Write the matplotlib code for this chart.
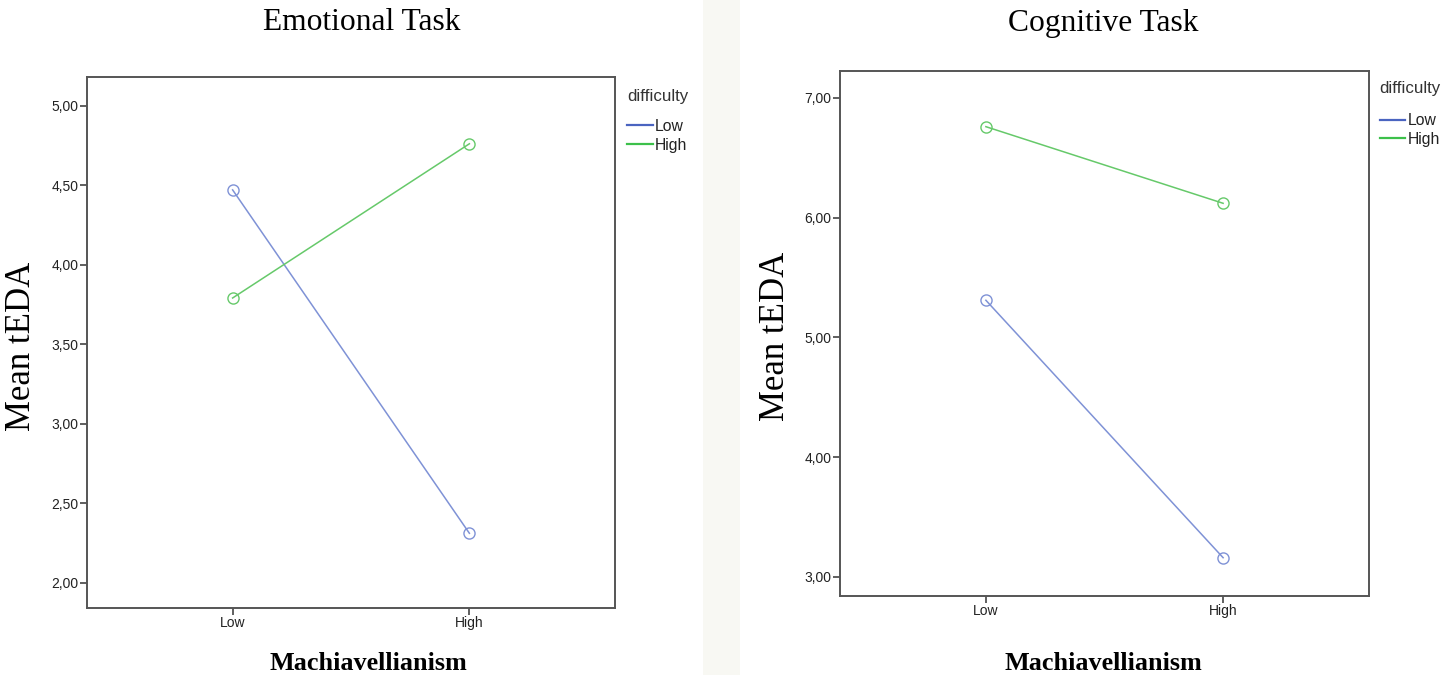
import matplotlib
matplotlib.use("Agg")
import matplotlib.pyplot as plt
from matplotlib.ticker import FuncFormatter
from matplotlib.patches import Rectangle

# Machiavellianism groups on the x axis
mach_groups = ["Low", "High"]
difficulty_levels = ["Low", "High"]

# mean tEDA, emotional task
emo_low_diff = [4.47, 2.31]
emo_high_diff = [3.79, 4.76]

# mean tEDA, cognitive task
cog_low_diff = [5.31, 3.16]
cog_high_diff = [6.76, 6.12]

emo_ticks = [2.0, 2.5, 3.0, 3.5, 4.0, 4.5, 5.0]
cog_ticks = [3.0, 4.0, 5.0, 6.0, 7.0]

W, H = 1447, 675
line_colors = ["#7f92d6", "#66c96a"]
legend_colors = ["#4a64c0", "#3cc04a"]


def comma_fmt(v, pos):
    return f"{v:.2f}".replace(".", ",")


def px_axes(fig, x0, x1, y0, y1):
    # pixel box (top-left origin) -> axes
    return fig.add_axes([x0 / W, (H - y1) / H, (x1 - x0) / W, (y1 - y0) / H])


def draw_panel(ax, low_vals, high_vals, ylim, ticks, title_xy, leg_anchor):
    xs = list(range(len(mach_groups)))
    for vals, c, lc, lab in zip([low_vals, high_vals], line_colors, legend_colors, difficulty_levels):
        ax.plot(xs, vals, color=c, lw=1.1, marker="o", markersize=8,
                markerfacecolor="none", markeredgecolor=c, markeredgewidth=1.0)
        ax.plot([], [], color=lc, lw=1.6, label=lab)
    ax.set_xlim(-0.615, 1.615)
    ax.set_ylim(*ylim)
    ax.set_xticks(xs)
    ax.set_xticklabels(mach_groups, family="Liberation Sans")
    ax.set_yticks(ticks)
    ax.yaxis.set_major_formatter(FuncFormatter(comma_fmt))
    ax.tick_params(direction="out", length=5, width=1.2, color="#444444",
                   labelsize=10, labelcolor="#222222", pad=1)
    for lab in ax.get_yticklabels():
        lab.set_family("Liberation Sans")
    for s in ax.spines.values():
        s.set_color("#555555")
        s.set_linewidth(1.4)
    # legend title sits apart from the entries, as in SPSS output
    ax.text(title_xy[0], title_xy[1], "difficulty", transform=ax.transAxes,
            fontsize=12.2, color="#333333", ha="left", va="center", family="Liberation Sans")
    leg = ax.legend(loc="upper left", bbox_to_anchor=leg_anchor, frameon=False,
                    prop={"family": "Liberation Sans", "size": 11.3},
                    handlelength=1.65, handletextpad=0.15, labelspacing=0.25,
                    borderaxespad=0, borderpad=0)
    for t in leg.get_texts():
        t.set_color("#222222")


fig = plt.figure(figsize=(W / 100, H / 100), dpi=100)
fig.patch.set_facecolor("white")
fig.patches.append(Rectangle((703 / W, 0), 37 / W, 1, transform=fig.transFigure,
                             facecolor="#f8f8f3", edgecolor="none", zorder=0))

ax1 = px_axes(fig, 87, 615, 77, 608)
draw_panel(ax1, emo_low_diff, emo_high_diff, (1.84, 5.18), emo_ticks,
           (1.0227, 0.963), (1.0227, 0.921))

ax2 = px_axes(fig, 840, 1369, 71, 596)
draw_panel(ax2, cog_low_diff, cog_high_diff, (2.84, 7.225), cog_ticks,
           (1.019, 0.966), (1.02, 0.920))

serif = "Liberation Serif"
fig.text(362 / W, 1 - 23 / H, "Emotional Task", family=serif, fontsize=22.7, ha="center", va="center")
fig.text(1103 / W, 1 - 23 / H, "Cognitive Task", family=serif, fontsize=22.7, ha="center", va="center")
fig.text(368 / W, 1 - 663 / H, "Machiavellianism", family=serif, fontsize=18.8, weight="bold",
         ha="center", va="center")
fig.text(1103 / W, 1 - 663 / H, "Machiavellianism", family=serif, fontsize=18.8, weight="bold",
         ha="center", va="center")
fig.text(22 / W, 1 - 346 / H, "Mean tEDA", family=serif, fontsize=25, rotation=90,
         ha="center", va="center")
fig.text(775 / W, 1 - 336 / H, "Mean tEDA", family=serif, fontsize=25, rotation=90,
         ha="center", va="center")

fig.savefig("out.png", dpi=100)
